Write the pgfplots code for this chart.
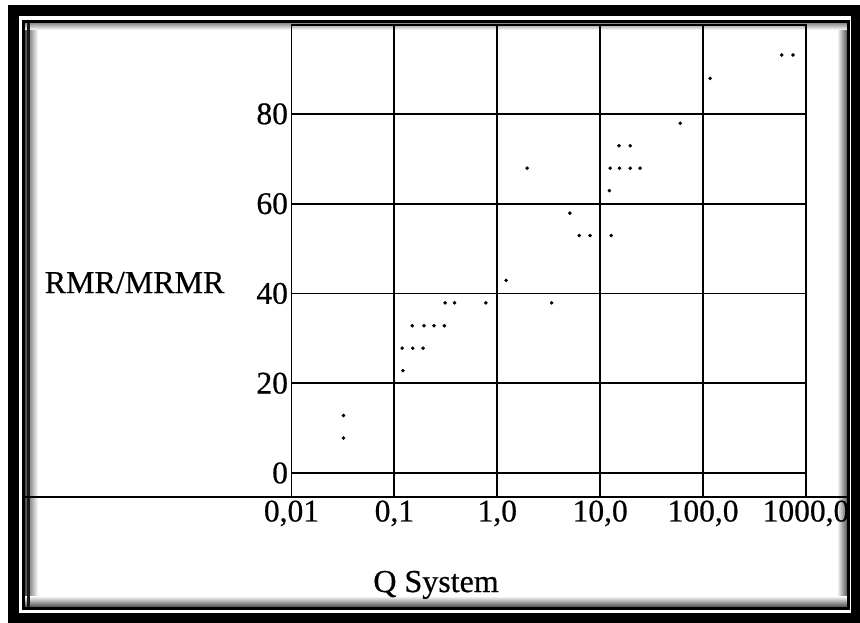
\documentclass[border=0pt]{standalone}
\usepackage{pgfplots}
\pgfplotsset{compat=1.18}
\usepackage{fontspec}
\setmainfont{Liberation Serif}[FakeBold=0.6]

% RMR/MRMR class midpoints against Q-system values
\pgfplotstableread{
q      rmr
0.032  7.8
0.032  12.8
0.121  22.8
0.119  27.8
0.151  27.8
0.190  27.8
0.149  32.8
0.194  32.8
0.243  32.8
0.306  32.8
0.311  37.9
0.384  37.9
0.776  37.9
3.38   37.9
1.22   42.9
6.27   52.9
7.98   52.9
12.8   52.9
5.08   57.9
12.3   62.9
1.95   67.9
12.5   67.9
15.4   67.9
19.6   67.9
24.4   67.9
15.2   72.9
19.6   72.9
59.9   77.9
117    87.9
581    93.1
748    93.1
}\qdata

\begin{document}
\begin{tikzpicture}[x=1pt,y=1pt]
\useasboundingbox (0,0) rectangle (860,622);
\fill[white] (0,0) rectangle (860,622);
% picture frame: heavy outer rule, thin inner rule with a soft inner shadow
\draw[line width=11pt] (13.5,4) rectangle (856.5,611.5);
\shade[left color=black!70, right color=white] (25,15) rectangle (38,599);
\shade[right color=black!65, left color=white] (837,15) rectangle (847,599);
\shade[top color=black!45, bottom color=white] (25,592) rectangle (847,599);
\shade[bottom color=black!70, top color=white] (25,15) rectangle (847,26);
\draw[line width=3pt, black!90] (28.5,15) -- (28.5,599);
\draw[line width=3pt] (23.5,13.5) rectangle (848.5,600.5);

\begin{axis}[
  at={(291.5pt,125pt)}, anchor=south west,
  scale only axis, width=514.5pt, height=472pt,
  xmode=log, xmin=0.01, xmax=1000,
  ymin=-5.35, ymax=99.8,
  xtick={0.01,0.1,1,10,100,1000},
  xticklabels={{0,01},{0,1},{1,0},{10,0},{100,0},{1000,0}},
  ytick={0,20,40,60,80},
  xminorticks=false,
  grid=major,
  major grid style={black, line width=1.8pt},
  axis line style={line width=1.8pt},
  tick style={draw=none},
  ticklabel style={font=\fontsize{31.5}{38}\selectfont},
  /pgf/number format/assume math mode=true,
  xlabel={Q System},
  every axis x label/.style={at={(axis description cs:0.281,-0.2013)}, anchor=base, font=\fontsize{32}{38}\selectfont},
  ylabel={RMR/MRMR},
  every axis y label/.style={at={(axis description cs:-0.305,0.432)}, anchor=base, font=\fontsize{32}{38}\selectfont},
]
\addplot[only marks, mark=*, mark size=1.6pt, black] table[x=q, y=rmr] {\qdata};
\end{axis}
% rule under the plot running across the whole frame
\draw[line width=1.8pt] (25,125) -- (847,125);
\end{tikzpicture}
\end{document}
